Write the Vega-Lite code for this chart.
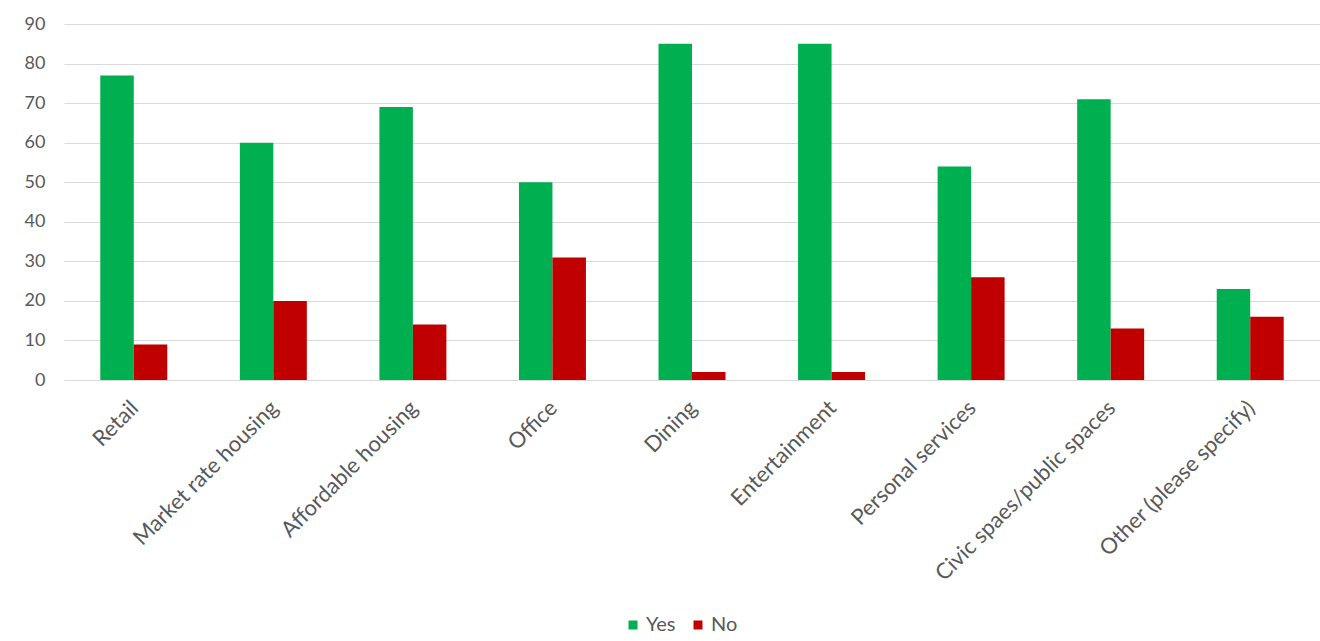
{
  "$schema": "https://vega.github.io/schema/vega-lite/v6.json",
  "autosize": {"type": "none"},
  "width": 1256,
  "height": 356,
  "padding": {"left": 64, "top": 24, "right": 0, "bottom": 261},
  "background": "white",
  "data": {"values": [
    {"category": "Retail", "answer": "Yes", "value": 77},
    {"category": "Retail", "answer": "No", "value": 9},
    {"category": "Market rate housing", "answer": "Yes", "value": 60},
    {"category": "Market rate housing", "answer": "No", "value": 20},
    {"category": "Affordable housing", "answer": "Yes", "value": 69},
    {"category": "Affordable housing", "answer": "No", "value": 14},
    {"category": "Office", "answer": "Yes", "value": 50},
    {"category": "Office", "answer": "No", "value": 31},
    {"category": "Dining", "answer": "Yes", "value": 85},
    {"category": "Dining", "answer": "No", "value": 2},
    {"category": "Entertainment", "answer": "Yes", "value": 85},
    {"category": "Entertainment", "answer": "No", "value": 2},
    {"category": "Personal services", "answer": "Yes", "value": 54},
    {"category": "Personal services", "answer": "No", "value": 26},
    {"category": "Civic spaes/public spaces", "answer": "Yes", "value": 71},
    {"category": "Civic spaes/public spaces", "answer": "No", "value": 13},
    {"category": "Other (please specify)", "answer": "Yes", "value": 23},
    {"category": "Other (please specify)", "answer": "No", "value": 16}
  ]},
  "mark": {"type": "bar"},
  "encoding": {
    "x": {
      "field": "category", "type": "nominal", "sort": null,
      "scale": {"paddingInner": 0.52, "paddingOuter": 0.26},
      "axis": {"title": null, "labelAngle": -45, "labelFontSize": 22, "labelFont": "Lato", "labelColor": "#595959", "domain": false, "ticks": false, "labelPadding": 17, "labelOffset": -6, "labelLimit": 400}
    },
    "xOffset": {"field": "answer", "type": "nominal", "sort": ["Yes", "No"], "scale": {"paddingInner": 0, "paddingOuter": 0}},
    "y": {
      "field": "value", "type": "quantitative",
      "scale": {"domain": [0, 90]},
      "axis": {"title": null, "values": [0,10,20,30,40,50,60,70,80,90], "labelFontSize": 18, "labelFont": "Lato", "labelColor": "#595959", "domain": false, "ticks": false, "labelPadding": 19, "gridColor": "#d9d9d9", "gridWidth": 1}
    },
    "color": {
      "field": "answer", "type": "nominal",
      "scale": {"domain": ["Yes", "No"], "range": ["#00b050", "#c00000"]},
      "legend": {"title": null, "orient": "none", "direction": "horizontal", "legendX": 559, "legendY": 591, "symbolType": "square", "symbolSize": 81, "symbolStrokeWidth": 0, "labelFontSize": 20, "labelFont": "Lato", "labelColor": "#595959", "labelOffset": 3, "columnPadding": 12}
    }
  },
  "config": {"view": {"stroke": null}}
}
